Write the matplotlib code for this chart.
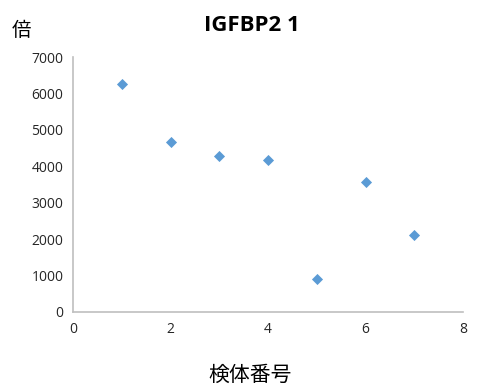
import matplotlib.pyplot as plt

sample_no = [1, 2, 3, 4, 5, 6, 7]
fold = [6250, 4675, 4290, 4180, 915, 3570, 2120]
x_ticks = [0, 2, 4, 6, 8]
y_ticks = [0, 1000, 2000, 3000, 4000, 5000, 6000, 7000]

plt.rcParams["font.family"] = ["Open Sans", "Noto Sans CJK JP", "DejaVu Sans"]

fig = plt.figure(figsize=(4.87, 3.86), dpi=100)
ax = fig.add_axes([0.150, 0.192, 0.801, 0.660])

ax.scatter(sample_no, fold, marker="D", s=32, color="#5B9BD5", linewidths=0, zorder=3)

ax.set_xlim(0, 8)
ax.set_ylim(0, 7000)
ax.set_xticks(x_ticks)
ax.set_yticks(y_ticks)
ax.tick_params(length=0, labelsize=10, colors="#262626", pad=7)

for side in ["top", "right"]:
    ax.spines[side].set_visible(False)
for side in ["left", "bottom"]:
    ax.spines[side].set_color("#BFBFBF")
    ax.spines[side].set_linewidth(1.2)

fig.text(0.517, 0.935, "IGFBP2 1", ha="center", va="center",
         fontsize=16, fontweight="bold", color="black")
fig.text(0.045, 0.922, "倍", ha="center", va="center", fontsize=14,
         family=["Noto Sans CJK JP", "DejaVu Sans"])
fig.text(0.513, 0.030, "検体番号", ha="center", va="center", fontsize=15,
         family=["Noto Sans CJK JP", "DejaVu Sans"])

fig.savefig("out.png", dpi=100)
